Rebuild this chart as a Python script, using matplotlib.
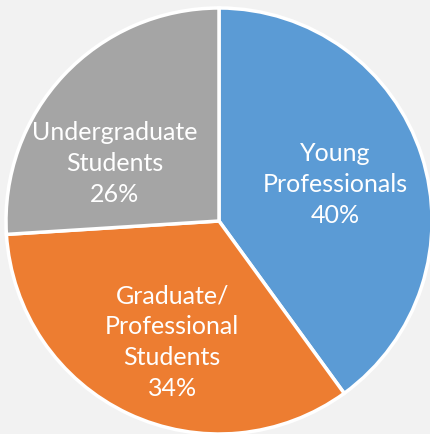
import matplotlib.pyplot as plt

# 数据
categories = ['Young\nProfessionals', 'Graduate/\nProfessional\nStudents', 'Undergraduate\nStudents']
shares = [40, 34, 26]
colors = ['#5B9BD5', '#ED7D31', '#A5A5A5']
# 标签位置（以半径为单位）
label_pos = [(0.545, 0.17), (-0.22, -0.57), (-0.49, 0.27)]

plt.rcParams['font.family'] = ['Lato', 'DejaVu Sans']

fig = plt.figure(figsize=(4.31, 4.34), dpi=100, facecolor='#F2F2F2')
ax = fig.add_axes([6 / 431, 0, 426 / 431, 426 / 434])
ax.set_facecolor('none')

wedges, _ = ax.pie(shares, colors=colors, startangle=90, counterclock=False,
                   radius=1.0, wedgeprops=dict(edgecolor='white', linewidth=2.5))

for name, val, (x, y) in zip(categories, shares, label_pos):
    ax.text(x, y, f'{name}\n{val}%', ha='center', va='center',
            color='white', fontsize=18, linespacing=1.42)

ax.set_xlim(-1.0, 1.0)
ax.set_ylim(-1.0, 1.0)
ax.set_aspect('equal')
ax.axis('off')

plt.savefig('out.png', dpi=100, facecolor=fig.get_facecolor())
